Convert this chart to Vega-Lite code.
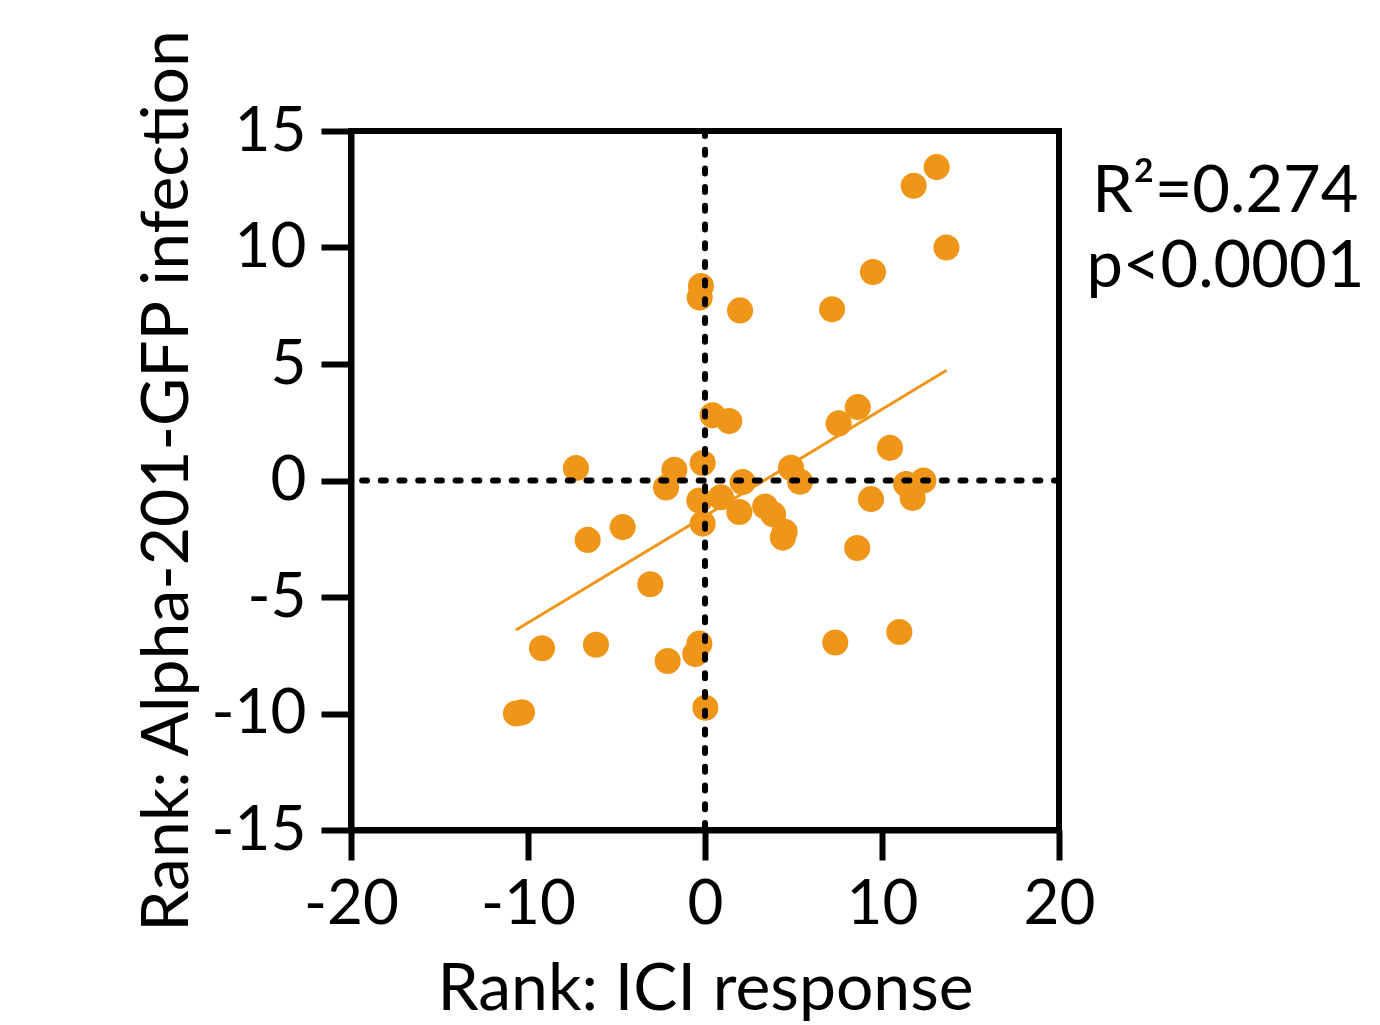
{
  "$schema": "https://vega.github.io/schema/vega-lite/v6.json",
  "autosize": {"type": "none"},
  "width": 708,
  "height": 699,
  "padding": {"left": 351, "top": 131, "right": 321, "bottom": 195},
  "background": "white",
  "config": {
    "font": "Lato",
    "view": {"stroke": "black", "strokeWidth": 6},
    "axis": {
      "domainColor": "black", "domainWidth": 6,
      "tickColor": "black", "tickWidth": 6, "tickSize": 30,
      "labelFont": "Lato", "labelFontSize": 62, "labelColor": "black",
      "titleFont": "Lato", "titleFontSize": 66, "titleFontWeight": "normal", "titleColor": "black",
      "grid": false
    }
  },
  "datasets": {
    "points": [
      {"ici": 0.43, "alpha": 2.8}, {"ici": 1.37, "alpha": 2.55}, {"ici": -7.29, "alpha": 0.53},
      {"ici": -1.73, "alpha": 0.46}, {"ici": -0.13, "alpha": 0.75}, {"ici": -2.2, "alpha": -0.3},
      {"ici": -0.32, "alpha": -0.86}, {"ici": 0.9, "alpha": -0.72}, {"ici": 2.13, "alpha": -0.07},
      {"ici": -0.13, "alpha": -1.85}, {"ici": 1.94, "alpha": -1.35}, {"ici": 3.4, "alpha": -1.12},
      {"ici": 3.85, "alpha": -1.45}, {"ici": 4.5, "alpha": -2.2}, {"ici": 4.4, "alpha": -2.45},
      {"ici": -4.65, "alpha": -2.0}, {"ici": -6.63, "alpha": -2.55}, {"ici": -3.09, "alpha": -4.45},
      {"ici": 4.86, "alpha": 0.55}, {"ici": -9.21, "alpha": -7.2}, {"ici": -6.16, "alpha": -7.05},
      {"ici": -2.11, "alpha": -7.75}, {"ici": -0.55, "alpha": -7.45}, {"ici": -0.32, "alpha": -7.0},
      {"ici": -10.68, "alpha": -10.0}, {"ici": -10.34, "alpha": -9.95}, {"ici": 0.02, "alpha": -9.75},
      {"ici": 13.09, "alpha": 13.45}, {"ici": 11.79, "alpha": 12.65}, {"ici": 13.64, "alpha": 10.0},
      {"ici": 9.49, "alpha": 8.95}, {"ici": 7.18, "alpha": 7.35}, {"ici": 1.98, "alpha": 7.3},
      {"ici": -0.23, "alpha": 8.35}, {"ici": -0.3, "alpha": 7.85}, {"ici": 8.63, "alpha": 3.15},
      {"ici": 7.55, "alpha": 2.45}, {"ici": 10.45, "alpha": 1.4}, {"ici": 5.37, "alpha": -0.05},
      {"ici": 11.36, "alpha": -0.15}, {"ici": 12.34, "alpha": 0.0}, {"ici": 11.73, "alpha": -0.75},
      {"ici": 9.38, "alpha": -0.8}, {"ici": 8.6, "alpha": -2.9}, {"ici": 7.36, "alpha": -6.95},
      {"ici": 10.98, "alpha": -6.5}
    ],
    "fit": [
      {"ici": -10.68, "alpha": -6.42},
      {"ici": 13.65, "alpha": 4.73}
    ],
    "stats": [
      {"ici": 29.4, "alpha": 11.52, "label": "R²=0.274"},
      {"ici": 29.4, "alpha": 8.3, "label": "p<0.0001"}
    ]
  },
  "layer": [
    {
      "data": {"name": "points"},
      "mark": {"type": "circle", "size": 680, "color": "#EF9618", "opacity": 1},
      "encoding": {
        "x": {
          "field": "ici", "type": "quantitative",
          "scale": {"domain": [-20, 20], "nice": false, "zero": false},
          "axis": {
            "values": [-20, -10, 0, 10, 20],
            "labelExpr": "'' + datum.value",
            "labelPadding": 14,
            "labelFlush": false,
            "title": "Rank: ICI response",
            "titlePadding": 22
          }
        },
        "y": {
          "field": "alpha", "type": "quantitative",
          "scale": {"domain": [-15, 15], "nice": false, "zero": false},
          "axis": {
            "values": [-15, -10, -5, 0, 5, 10, 15],
            "labelExpr": "'' + datum.value",
            "labelPadding": 15,
            "labelFlush": false,
            "title": "Rank: Alpha-201-GFP infection",
            "titlePadding": 10
          }
        }
      }
    },
    {
      "data": {"name": "fit"},
      "mark": {"type": "line", "color": "#EF9618", "strokeWidth": 3},
      "encoding": {
        "x": {"field": "ici", "type": "quantitative"},
        "y": {"field": "alpha", "type": "quantitative"}
      }
    },
    {
      "data": {"values": [{"v": 0}]},
      "mark": {"type": "rule", "color": "black", "strokeWidth": 6, "strokeDash": [5, 13.7], "strokeCap": "round"},
      "encoding": {"x": {"field": "v", "type": "quantitative"}}
    },
    {
      "data": {"values": [{"v": 0}]},
      "mark": {"type": "rule", "color": "black", "strokeWidth": 6, "strokeDash": [5, 13.7], "strokeCap": "round"},
      "encoding": {"y": {"field": "v", "type": "quantitative"}}
    },
    {
      "data": {"name": "stats"},
      "mark": {"type": "text", "fontSize": 65, "align": "center", "baseline": "alphabetic", "clip": false, "color": "black"},
      "encoding": {
        "x": {"field": "ici", "type": "quantitative"},
        "y": {"field": "alpha", "type": "quantitative"},
        "text": {"field": "label"}
      }
    }
  ]
}
